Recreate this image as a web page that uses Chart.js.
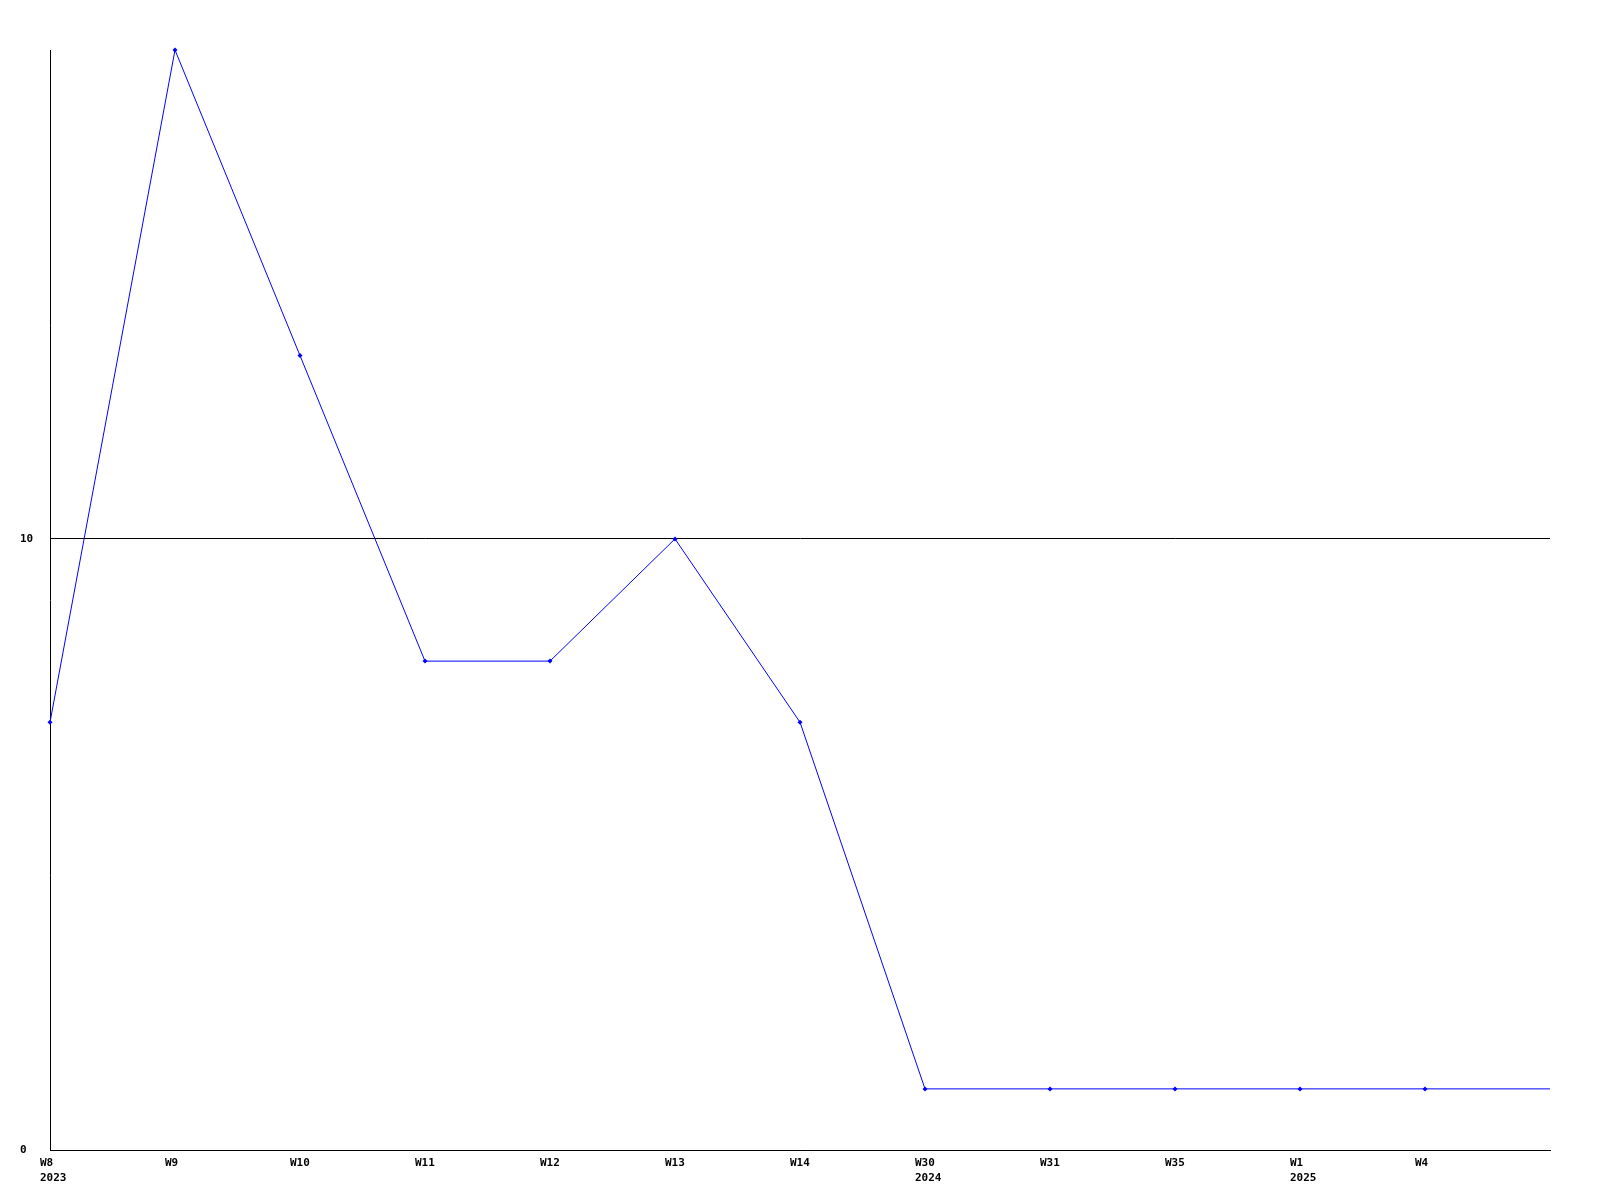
<!DOCTYPE html>
<html>
<head>
<meta charset="utf-8">
<script src="https://cdn.jsdelivr.net/npm/chart.js@4/dist/chart.umd.min.js"></script>
<style>
  html, body { margin: 0; padding: 0; background: #fff; }
  #wrap { width: 1600px; height: 1200px; }
</style>
</head>
<body>
<div id="wrap"><canvas id="chart"></canvas></div>
<script>
// weeks on the x axis (second line = year where it changes)
const weekLabels = [
    ['W8', '2023'], 'W9', 'W10', 'W11', 'W12', 'W13', 'W14',
    ['W30', '2024'], 'W31', 'W35', ['W1', '2025'], 'W4', ''
];
const counts = [7, 18, 13, 8, 8, 10, 7, 1, 1, 1, 1, 1, 1];
const yTicks = [0, 10];

const tickFont = { family: "'DejaVu Sans Mono', monospace", size: 11, weight: 'bold', lineHeight: '15px' };

new Chart(document.getElementById('chart'), {
    type: 'line',
    data: {
        labels: weekLabels,
        datasets: [{
            data: counts,
            borderColor: '#0000ff',
            backgroundColor: '#0000ff',
            borderWidth: 1,
            tension: 0,
            pointStyle: 'rectRot',
            pointRadius: ctx => ctx.dataIndex === counts.length - 1 ? 0 : 2.5,
            pointBorderWidth: 0,
            clip: false,
        }]
    },
    options: {
        responsive: true,
        maintainAspectRatio: false,
        animation: false,
        layout: { padding: { left: 20, top: 50, right: 50, bottom: 0 } },
        plugins: { legend: { display: false }, tooltip: { enabled: false } },
        scales: {
            x: {
                offset: false,
                grid: { display: false, drawTicks: false },
                border: { color: '#000', width: 1 },
                ticks: {
                    color: '#000', font: tickFont, align: 'start', labelOffset: -10,
                    padding: 6, maxRotation: 0, autoSkip: false
                },
                afterFit: s => { s.height = 50; }
            },
            y: {
                min: 0,
                max: 18,
                grid: { color: '#000', lineWidth: 1, drawTicks: false },
                border: { color: '#000', width: 1 },
                ticks: { color: '#000', font: tickFont, crossAlign: 'far', padding: 0 },
                afterBuildTicks: s => { s.ticks = yTicks.map(v => ({ value: v })); },
                afterFit: s => { s.width = 30; }
            }
        }
    }
});
</script>
</body>
</html>
